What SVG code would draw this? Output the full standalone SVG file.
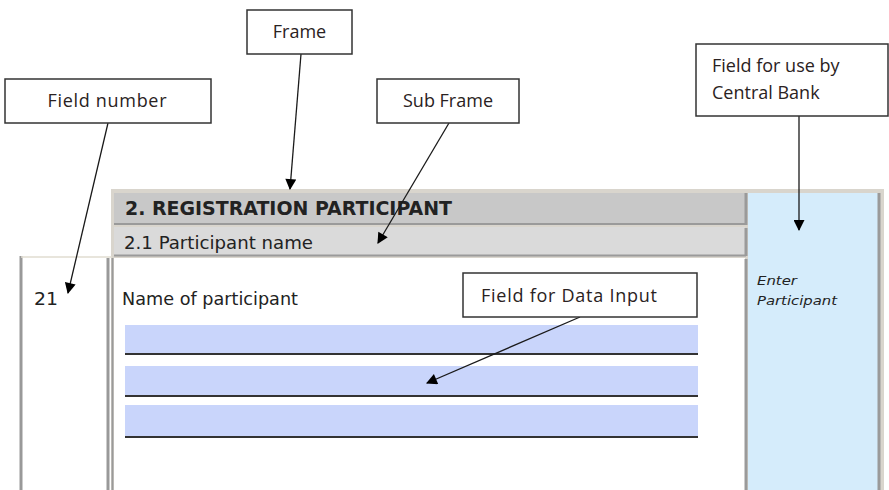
<svg xmlns="http://www.w3.org/2000/svg" width="889" height="490" viewBox="0 0 889 490">
<defs>
<style>
.callout{fill:#fff;stroke:#333;stroke-width:1.5}
.ct{font-family:"Open Sans","DejaVu Sans",sans-serif;font-size:18px;fill:#2a2222}
.form{font-family:"DejaVu Sans","Liberation Sans",sans-serif;fill:#222}
.conn{stroke:#1a1a1a;stroke-width:1.3;fill:none;marker-end:url(#ah)}
.input{fill:#c9d5fb}
.uline{stroke:#333;stroke-width:2}
.sep{stroke:#9a9a9a;stroke-width:3}
</style>
<marker id="ah" viewBox="0 0 10 10" refX="9" refY="5" markerWidth="12" markerHeight="11" markerUnits="userSpaceOnUse" orient="auto">
<path d="M0,0 L10,5 L0,10 z" fill="#000"/>
</marker>
</defs>
<rect width="889" height="490" fill="#fff"/>
<g id="form">
<rect x="111" y="189" width="773" height="301" fill="#d9d5cd"/>
<rect x="114" y="193" width="631" height="31" fill="#c8c8c8"/>
<rect x="114" y="227" width="631" height="28" fill="#dadada"/>
<rect x="114" y="258" width="631" height="232" fill="#fff"/>
<rect x="748" y="193" width="130" height="297" fill="#d5ecfb"/>
<line class="sep" x1="746" y1="193" x2="746" y2="225"/>
<line class="sep" x1="746" y1="228" x2="746" y2="256"/>
<line class="sep" x1="746" y1="259" x2="746" y2="490"/>
<line class="sep" x1="879" y1="193" x2="879" y2="490"/>
<line x1="114" y1="224" x2="746" y2="224" stroke="#9a9a9a" stroke-width="2"/>
<line x1="114" y1="255.5" x2="746" y2="255.5" stroke="#9a9a9a" stroke-width="2"/>
<line x1="112.5" y1="258" x2="112.5" y2="490" stroke="#9a9a9a" stroke-width="2"/>
<line x1="21" y1="256" x2="21" y2="490" stroke="#999" stroke-width="3"/>
<line x1="108" y1="258" x2="108" y2="490" stroke="#999" stroke-width="3"/>
<line x1="21" y1="257" x2="112" y2="257" stroke="#e0ddd0" stroke-width="1.5"/>
<text class="form" x="125" y="215" font-size="19" font-weight="bold" textLength="327" lengthAdjust="spacingAndGlyphs">2. REGISTRATION PARTICIPANT</text>
<text class="form" x="124" y="249" font-size="18" textLength="189" lengthAdjust="spacingAndGlyphs">2.1  Participant name</text>
<text class="form" x="34" y="305" font-size="17" textLength="24" lengthAdjust="spacingAndGlyphs">21</text>
<text class="form" x="122" y="305" font-size="18" textLength="176" lengthAdjust="spacingAndGlyphs">Name of participant</text>
<text class="form" x="757" y="285" font-size="13" font-style="italic" textLength="40" lengthAdjust="spacingAndGlyphs">Enter</text>
<text class="form" x="757" y="305" font-size="13" font-style="italic" textLength="80" lengthAdjust="spacingAndGlyphs">Participant</text>
<rect class="input" x="125" y="325" width="573" height="28"/>
<line class="uline" x1="125" y1="354" x2="698" y2="354"/>
<rect class="input" x="125" y="366" width="573" height="29"/>
<line class="uline" x1="125" y1="396" x2="698" y2="396"/>
<rect class="input" x="125" y="405" width="573" height="31"/>
<line class="uline" x1="125" y1="437" x2="698" y2="437"/>
</g>
<g id="connectors">
<line class="conn" x1="301" y1="54" x2="290" y2="189"/>
<line class="conn" x1="108" y1="123" x2="68" y2="293"/>
<line class="conn" x1="449" y1="123" x2="378" y2="243"/>
<line class="conn" x1="799" y1="116" x2="799" y2="230"/>
<line class="conn" x1="580" y1="317" x2="427" y2="383"/>
</g>
<g id="frame">
<rect class="callout" x="247" y="10" width="105" height="44"/>
<text class="ct" x="299.5" y="38" text-anchor="middle">Frame</text>
</g>
<g id="field-number">
<rect class="callout" x="5" y="79" width="206" height="44"/>
<text class="ct" x="107" y="107" text-anchor="middle" textLength="119" lengthAdjust="spacing">Field number</text>
</g>
<g id="sub-frame">
<rect class="callout" x="377" y="79" width="142" height="44"/>
<text class="ct" x="448" y="107" text-anchor="middle">Sub Frame</text>
</g>
<g id="central-bank">
<rect class="callout" x="696" y="44" width="192" height="72"/>
<text class="ct" x="712" y="72">Field for use by</text>
<text class="ct" x="712" y="99">Central Bank</text>
</g>
<g id="data-input">
<rect class="callout" x="463" y="273" width="234" height="44"/>
<text class="ct" x="569" y="302" text-anchor="middle" textLength="176" lengthAdjust="spacing">Field for Data Input</text>
</g>
</svg>
